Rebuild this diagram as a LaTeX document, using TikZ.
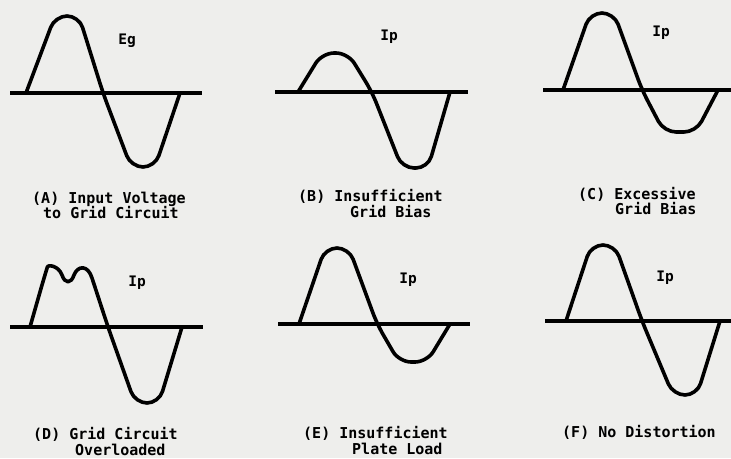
\documentclass[tikz,border=0pt]{standalone}
\usepackage{fontspec}
\newfontfamily\capfont{DejaVu Sans Mono}
\definecolor{paper}{RGB}{238,238,236}
\tikzset{
  axisline/.style={line width=3.2pt},
  wave/.style={line width=3.6pt, rounded corners=12pt, line join=round},
  captxt/.style={inner sep=0pt, anchor=base west, font=\capfont\bfseries\fontsize{15}{15}\selectfont},
  sigtxt/.style={inner sep=0pt, font=\capfont\bfseries\fontsize{14.5}{14.5}\selectfont}
}
\begin{document}
\begin{tikzpicture}[x=1pt,y=-1pt]
\fill[paper] (0,0) rectangle (731,458);
\clip (0,0) rectangle (731,458);
% (A) input voltage
\draw[axisline] (10,93) -- (202,93);
\draw[wave] (26,93) -- (55,16) -- (79,16) -- (103,93) -- (131,167) -- (155,167) -- (180,93);
\node[sigtxt] (egA) at (127,41) {Eg};
\node[captxt] (capA1) at (32,203) {(A) Input Voltage};
\node[captxt] (capA2) at (43,218) {to Grid Circuit};
% (B) insufficient grid bias
\draw[axisline] (275,92) -- (468,92);
\draw[wave] (298,92) -- (322,53) -- (348,53) -- (372,92) -- (402,168) -- (428,168) -- (450,92);
\node[sigtxt] (ipB) at (389,37) {Ip};
\node[captxt] (capB1) at (298,201) {(B) Insufficient};
\node[captxt] (capB2) at (350,217) {Grid Bias};
% (C) excessive grid bias
\draw[axisline] (543,90) -- (731,90);
\draw[wave] (563,90) -- (590,13) -- (614,13) -- (642,90) -- (664,132) -- (696,132) -- (718,90);
\node[sigtxt] (ipC) at (661,33) {Ip};
\node[captxt] (capC1) at (578,199) {(C) Excessive};
\node[captxt] (capC2) at (615,214) {Grid Bias};
% (D) grid circuit overloaded
\draw[axisline] (10,327) -- (203,327);
\draw[wave] (30,327) -- (44,278) [sharp corners] .. controls (48,265) and (58,265) .. (62,275)
  .. controls (65,284) and (71,284) .. (74,275) .. controls (78,265) and (88,265) .. (92,278)
  [rounded corners=12pt] -- (108,327) -- (135,403) -- (159,403) -- (182,327);
\node[sigtxt] (ipD) at (137,283) {Ip};
\node[captxt] (capD1) at (33,439) {(D) Grid Circuit};
\node[captxt] (capD2) at (75,455) {Overloaded};
% (E) insufficient plate load
\draw[axisline] (278,324) -- (470,324);
\draw[wave] (299,324) -- (325,248) -- (349,248) -- (377,324) -- (399,362) -- (427,362) -- (450,324);
\node[sigtxt] (ipE) at (408,280) {Ip};
\node[captxt] (capE1) at (303,438) {(E) Insufficient};
\node[captxt] (capE2) at (352,454) {Plate Load};
% (F) no distortion
\draw[axisline] (545,321) -- (731,321);
\draw[wave] (566,321) -- (591,245) -- (615,245) -- (642,321) -- (673,395) -- (697,395) -- (720,321);
\node[sigtxt] (ipF) at (665,278) {Ip};
\node[captxt] (capF1) at (562,437) {(F) No Distortion};
\end{tikzpicture}
\end{document}
